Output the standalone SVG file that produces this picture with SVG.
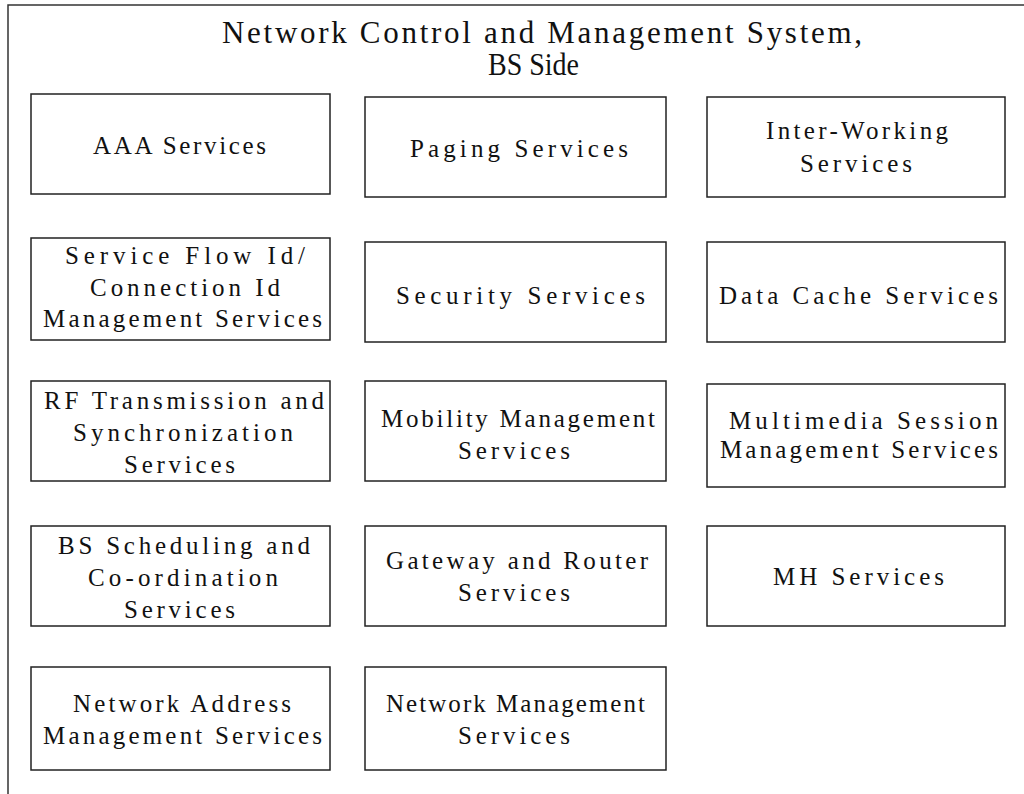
<svg xmlns="http://www.w3.org/2000/svg" width="1024" height="794" viewBox="0 0 1024 794">
<style>
.frame{fill:none;stroke:#333;stroke-width:1.5}
.box{fill:#fff;stroke:#222;stroke-width:1.5}
.t{font-family:"Liberation Serif","Times New Roman",serif;font-size:25px;fill:#111}
.title{font-family:"Liberation Serif","Times New Roman",serif;font-size:31px;fill:#111}
</style>
<rect width="1024" height="794" fill="#fff"/>
<g id="frame">
<path class="frame" d="M8,794 V5 H1024"/>
</g>
<g id="title">
<text class="title" x="222" y="43" textLength="640" lengthAdjust="spacing">Network Control and Management System,</text>
<text class="title" x="488" y="75" textLength="91" lengthAdjust="spacingAndGlyphs">BS Side</text>
</g>
<g id="connectors"/>
<g id="aaa"><rect class="box" x="31" y="94" width="299" height="100"/>
<text class="t" x="93" y="154" textLength="173" lengthAdjust="spacing">AAA Services</text></g>
<g id="paging"><rect class="box" x="365" y="97" width="301" height="100"/>
<text class="t" x="410" y="157" textLength="218" lengthAdjust="spacing">Paging Services</text></g>
<g id="interworking"><rect class="box" x="707" y="97" width="298" height="100"/>
<text class="t" x="766" y="139" textLength="182" lengthAdjust="spacing">Inter-Working</text>
<text class="t" x="800" y="172" textLength="112" lengthAdjust="spacing">Services</text></g>
<g id="sfid"><rect class="box" x="31" y="238" width="299" height="102"/>
<text class="t" x="65" y="264" textLength="240" lengthAdjust="spacing">Service Flow Id/</text>
<text class="t" x="90" y="296" textLength="190" lengthAdjust="spacing">Connection Id</text>
<text class="t" x="43" y="327" textLength="279" lengthAdjust="spacing">Management Services</text></g>
<g id="security"><rect class="box" x="365" y="242" width="301" height="100"/>
<text class="t" x="396" y="304" textLength="249" lengthAdjust="spacing">Security Services</text></g>
<g id="datacache"><rect class="box" x="707" y="242" width="298" height="100"/>
<text class="t" x="719" y="304" textLength="279" lengthAdjust="spacing">Data Cache Services</text></g>
<g id="rf"><rect class="box" x="31" y="381" width="299" height="100"/>
<text class="t" x="44" y="409" textLength="280" lengthAdjust="spacing">RF Transmission and</text>
<text class="t" x="73" y="441" textLength="220" lengthAdjust="spacing">Synchronization</text>
<text class="t" x="124" y="473" textLength="111" lengthAdjust="spacing">Services</text></g>
<g id="mobility"><rect class="box" x="365" y="381" width="301" height="100"/>
<text class="t" x="381" y="427" textLength="274" lengthAdjust="spacing">Mobility Management</text>
<text class="t" x="458" y="459" textLength="112" lengthAdjust="spacing">Services</text></g>
<g id="multimedia"><rect class="box" x="707" y="384" width="298" height="103"/>
<text class="t" x="729" y="429" textLength="269" lengthAdjust="spacing">Multimedia Session</text>
<text class="t" x="720" y="458" textLength="278" lengthAdjust="spacing">Management Services</text></g>
<g id="scheduling"><rect class="box" x="31" y="526" width="299" height="100"/>
<text class="t" x="58" y="554" textLength="252" lengthAdjust="spacing">BS Scheduling and</text>
<text class="t" x="88" y="586" textLength="190" lengthAdjust="spacing">Co-ordination</text>
<text class="t" x="124" y="618" textLength="111" lengthAdjust="spacing">Services</text></g>
<g id="gateway"><rect class="box" x="365" y="526" width="301" height="100"/>
<text class="t" x="386" y="569" textLength="262" lengthAdjust="spacing">Gateway and Router</text>
<text class="t" x="458" y="601" textLength="112" lengthAdjust="spacing">Services</text></g>
<g id="mh"><rect class="box" x="707" y="526" width="298" height="100"/>
<text class="t" x="773" y="585" textLength="171" lengthAdjust="spacing">MH Services</text></g>
<g id="netaddr"><rect class="box" x="31" y="667" width="299" height="103"/>
<text class="t" x="73" y="712" textLength="218" lengthAdjust="spacing">Network Address</text>
<text class="t" x="43" y="744" textLength="279" lengthAdjust="spacing">Management Services</text></g>
<g id="netmgmt"><rect class="box" x="365" y="667" width="301" height="103"/>
<text class="t" x="386" y="712" textLength="259" lengthAdjust="spacing">Network Management</text>
<text class="t" x="458" y="744" textLength="112" lengthAdjust="spacing">Services</text></g>
</svg>
